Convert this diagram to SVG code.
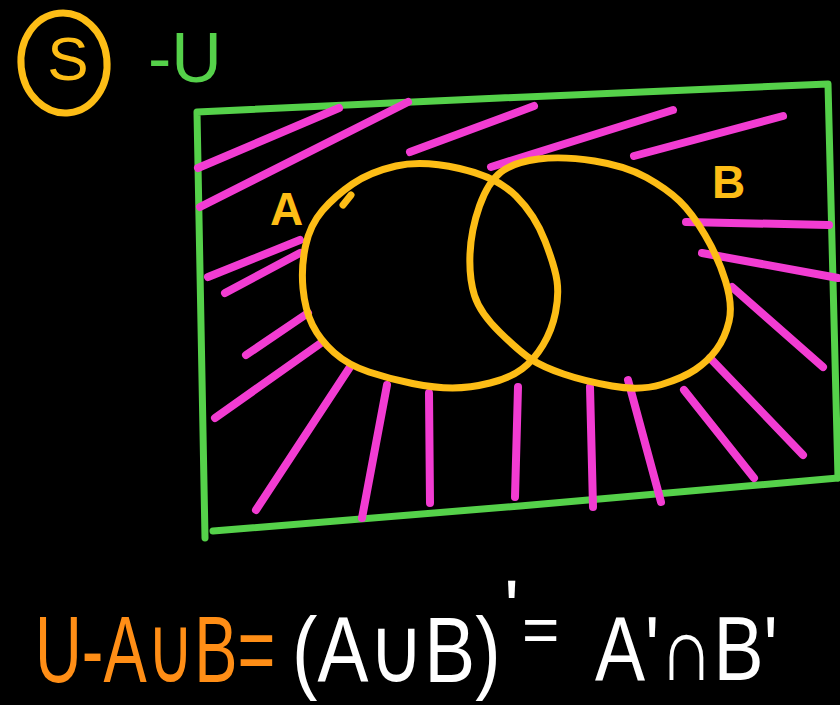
<svg xmlns="http://www.w3.org/2000/svg" width="840" height="705" viewBox="0 0 840 705">
  <style>
    .grn { fill: none; stroke: #55D14A; stroke-width: 7; stroke-linecap: round; stroke-linejoin: round; }
    .org { fill: none; stroke: #FDBD16; stroke-width: 7; stroke-linecap: round; stroke-linejoin: round; }
    .hat { fill: none; stroke: #F23CD2; stroke-width: 8; stroke-linecap: round; }
    .hand { font-family: "Liberation Sans", "DejaVu Sans", sans-serif; }
  </style>
  <rect width="840" height="705" fill="#000"/>

  <g id="title">
    <ellipse cx="64" cy="63" rx="43" ry="50" class="org" transform="rotate(-6 64 63)"/>
    <text class="hand" x="68" y="80" font-size="62" fill="#FDBD16" text-anchor="middle">S</text>
    <text class="hand" x="148" y="82" font-size="70" fill="#55D14A">-U</text>
  </g>

  <g id="universe">
    <path class="grn" d="M205,538 L197,112 L500,98 L828,84 L838,478"/>
    <path class="grn" d="M838,478 L520,506 L213,531"/>
  </g>

  <g id="hatching">
    <path class="hat" d="M198,168 L339,108"/>
    <path class="hat" d="M200,207 L408,102"/>
    <path class="hat" d="M410,152 L534,106"/>
    <path class="hat" d="M491,167 L673,110"/>
    <path class="hat" d="M634,156 L783,116"/>
    <path class="hat" d="M686,222 L829,225"/>
    <path class="hat" d="M702,253 L838,278"/>
    <path class="hat" d="M732,287 L823,367"/>
    <path class="hat" d="M710,358 L803,455"/>
    <path class="hat" d="M684,390 L754,478"/>
    <path class="hat" d="M628,380 L661,502"/>
    <path class="hat" d="M590,387 L593,507"/>
    <path class="hat" d="M518,387 L515,497"/>
    <path class="hat" d="M429,393 L430,503"/>
    <path class="hat" d="M387,385 L362,518"/>
    <path class="hat" d="M350,367 L256,510"/>
    <path class="hat" d="M321,343 L215,418"/>
    <path class="hat" d="M308,313 L246,355"/>
    <path class="hat" d="M300,240 L208,277"/>
    <path class="hat" d="M300,253 L225,293"/>
  </g>

  <g id="setA">
    <path class="org" d="M459.5,168.5 Q497,177 516,196 Q535,215 545,241 Q555,267 557,281 Q559,295 555.5,312.5 Q552,330 543,345 Q534,360 522,369 Q510,378 490,383 Q470,388 452.5,388 Q435,388 412.5,383.5 Q390,379 369,372 Q348,365 334,352.5 Q320,340 312.5,325 Q305,310 303,288.5 Q301,267 305.5,246 Q310,225 322.5,210.5 Q335,196 352.5,184 Q370,172 396,166 Q422,160 459.5,168.5 Z"/>
    <path class="org" d="M343,205 L351,195" stroke-width="5"/>
    <text class="hand" x="270" y="225" font-size="46" font-weight="bold" fill="#FDBD16">A</text>
  </g>

  <g id="setB">
    <path class="org" d="M594.5,161 Q626,166 646.5,177.5 Q667,189 679.5,201 Q692,213 705,235 Q718,257 725.5,281 Q733,305 729,321.5 Q725,338 716.5,349.5 Q708,361 695.5,369.5 Q683,378 661.5,384.5 Q640,391 612,386 Q584,381 563.5,374 Q543,367 531.5,359.5 Q520,352 500,332.5 Q480,313 474.5,295.5 Q469,278 470,254 Q471,230 479.5,206 Q488,182 501,172 Q514,162 538.5,159 Q563,156 594.5,161 Z"/>
    <text class="hand" x="712" y="198" font-size="46" font-weight="bold" fill="#FDBD16">B</text>
  </g>

  <g id="formula">
    <text class="hand" transform="translate(35,682) scale(0.69,1)" font-size="94" fill="#FF8E16">U-A∪B=</text>
    <text class="hand" transform="translate(292,682) scale(0.83,1)" font-size="92" fill="#FFFFFF">(A∪B)</text>
    <text class="hand" x="504" y="636" font-size="80" fill="#FFFFFF">'</text>
    <text class="hand" x="522" y="652" font-size="64" fill="#FFFFFF">=</text>
    <text class="hand" transform="translate(595,680) scale(0.835,1)" font-size="90" fill="#FFFFFF">A'∩B'</text>
  </g>
</svg>
